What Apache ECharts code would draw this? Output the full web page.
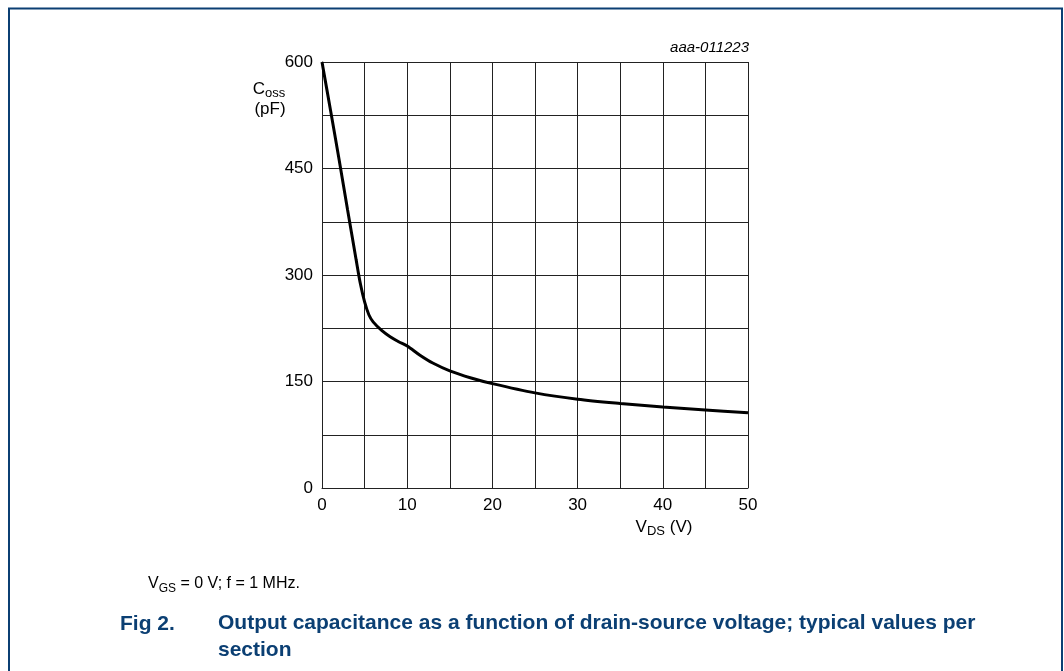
<!DOCTYPE html>
<html>
<head>
<meta charset="utf-8">
<script src="https://cdn.jsdelivr.net/npm/echarts@6/dist/echarts.min.js"></script>
<style>
  html, body { margin: 0; padding: 0; background: #fff; }
  #container { width: 1064px; height: 671px; }
</style>
</head>
<body>
<div id="container"></div>
<script>
// values
const vds = [0, 1, 2, 3, 4, 4.5, 5, 5.5, 6, 7, 8, 9, 10, 11.5, 13, 15, 17.5, 20, 25, 30, 35, 40, 45, 50];
const coss = [600, 532, 463, 392, 322, 288, 262, 244, 234, 222, 213, 206, 200, 187, 176, 165, 155, 147, 134, 125, 119, 114, 110, 106];
const xLabels = [0, 10, 20, 30, 40, 50];
const yLabels = [0, 150, 300, 450, 600];

const navy = '#0b3f73';
const font = '"Liberation Sans", Arial, sans-serif';

const dom = document.getElementById('container');
const myChart = echarts.init(dom);

const option = {
	animation: false,
	grid: { left: 322, top: 62, width: 426, height: 426, show: false },
	xAxis: {
		type: 'value',
		min: 0,
		max: 50,
		interval: 5,
		axisLine: { show: true, lineStyle: { color: '#222', width: 1 } },
		axisTick: { show: false },
		splitLine: { show: true, lineStyle: { color: '#222', width: 1 } },
		axisLabel: {
			color: '#000',
			fontFamily: font,
			fontSize: 17,
			margin: 9,
			formatter: (v) => (xLabels.includes(v) ? String(v) : ''),
		},
	},
	yAxis: {
		type: 'value',
		min: 0,
		max: 600,
		interval: 75,
		axisLine: { show: true, lineStyle: { color: '#222', width: 1 } },
		axisTick: { show: false },
		splitLine: { show: true, lineStyle: { color: '#222', width: 1 } },
		axisLabel: {
			color: '#000',
			fontFamily: font,
			fontSize: 17,
			margin: 9,
			formatter: (v) => (yLabels.includes(v) ? String(v) : ''),
		},
	},
	series: [
		{
			type: 'line',
			data: vds.map((v, i) => [v, coss[i]]),
			showSymbol: false,
			smooth: 0.3,
			lineStyle: { color: '#000', width: 3 },
		},
	],
	graphic: [
		{
			type: 'polyline',
			shape: { points: [[9, 671], [9, 8.5], [1062, 8.5], [1062, 671]] },
			style: { stroke: navy, lineWidth: 2, fill: null },
		},
		{
			type: 'text',
			style: {
				x: 749, y: 48, align: 'right', verticalAlign: 'middle',
				text: 'aaa-011223', font: 'italic 15px ' + font, fill: '#000',
			},
		},
		{
			type: 'text',
			style: {
				x: 269, y: 89, align: 'center', verticalAlign: 'middle',
				text: '{m|C}{s|oss}',
				rich: {
					m: { fontFamily: font, fontSize: 17, fill: '#000' },
					s: { fontFamily: font, fontSize: 13, fill: '#000', padding: [9, 0, 0, 0] },
				},
			},
		},
		{
			type: 'text',
			style: {
				x: 270, y: 109, align: 'center', verticalAlign: 'middle',
				text: '(pF)', font: '17px ' + font, fill: '#000',
			},
		},
		{
			type: 'text',
			style: {
				x: 664, y: 527, align: 'center', verticalAlign: 'middle',
				text: '{m|V}{s|DS}{m| (V)}',
				rich: {
					m: { fontFamily: font, fontSize: 17, fill: '#000' },
					s: { fontFamily: font, fontSize: 13, fill: '#000', padding: [9, 0, 0, 0] },
				},
			},
		},
		{
			type: 'text',
			style: {
				x: 148, y: 584, align: 'left', verticalAlign: 'middle',
				text: '{m|V}{s|GS}{m| = 0 V; f = 1 MHz.}',
				rich: {
					m: { fontFamily: font, fontSize: 16, fill: '#000' },
					s: { fontFamily: font, fontSize: 12, fill: '#000', padding: [9, 0, 0, 0] },
				},
			},
		},
		{
			type: 'text',
			style: {
				x: 120, y: 624, align: 'left', verticalAlign: 'middle',
				text: 'Fig 2.', font: 'bold 21px ' + font, fill: navy,
			},
		},
		{
			type: 'text',
			style: {
				x: 218, y: 610, align: 'left', verticalAlign: 'top',
				text: 'Output capacitance as a function of drain-source voltage; typical values per\nsection',
				font: 'bold 21px ' + font,
				fill: navy,
				lineHeight: 27,
			},
		},
	],
};

if (option && typeof option === 'object') {
	myChart.setOption(option);
}
</script>
</body>
</html>
